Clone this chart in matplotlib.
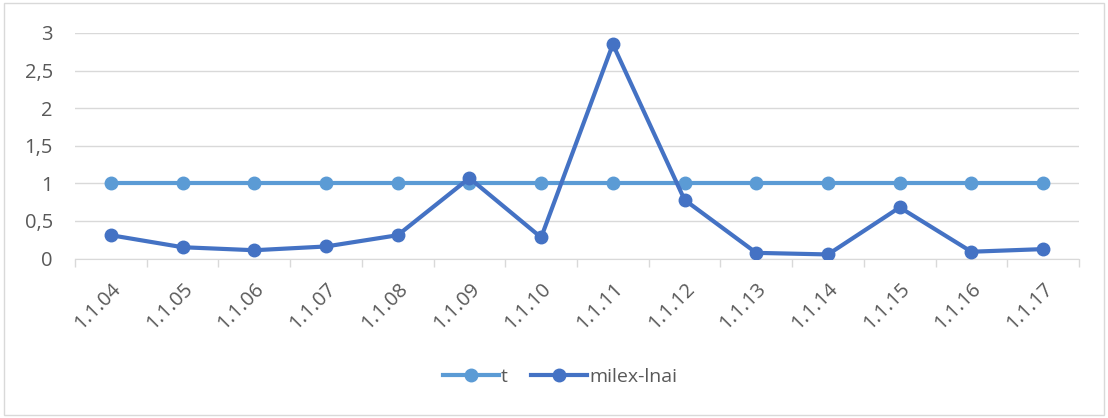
import matplotlib
matplotlib.use("Agg")
import matplotlib.pyplot as plt
from matplotlib.patches import Rectangle
from matplotlib.ticker import FuncFormatter

# data
labels = ['1.1.04', '1.1.05', '1.1.06', '1.1.07', '1.1.08', '1.1.09', '1.1.10',
          '1.1.11', '1.1.12', '1.1.13', '1.1.14', '1.1.15', '1.1.16', '1.1.17']
t_vals = [1, 1, 1, 1, 1, 1, 1, 1, 1, 1, 1, 1, 1, 1]
milex_vals = [0.31, 0.15, 0.11, 0.16, 0.31, 1.07, 0.28,
              2.85, 0.78, 0.075, 0.054, 0.68, 0.09, 0.125]

plt.rcParams['font.family'] = ['Open Sans', 'DejaVu Sans']
txt = '#595959'
grid = '#d9d9d9'

fig = plt.figure(figsize=(11.08, 4.18), dpi=100)
fig.patches.append(Rectangle((0.004, 0.006), 0.992, 0.988, transform=fig.transFigure,
                             fill=False, edgecolor=grid, lw=1))

ax = fig.add_axes([75 / 1108, (418 - 258.5) / 418, 1004 / 1108, 225.5 / 418])
x = range(len(labels))
ax.plot(x, t_vals, color='#5B9BD5', lw=3, marker='o', ms=9, label='t', zorder=3)
ax.plot(x, milex_vals, color='#4472C4', lw=3, marker='o', ms=9, label='milex-lnai', zorder=4)

ax.set_xlim(-0.5, len(labels) - 0.5)
ax.set_ylim(0, 3)
ax.set_yticks([0, 0.5, 1, 1.5, 2, 2.5, 3])
ax.yaxis.set_major_formatter(FuncFormatter(lambda v, p: ('%g' % v).replace('.', ',')))
ax.grid(axis='y', color=grid, lw=1)
ax.set_axisbelow(True)
for s in ['top', 'right', 'left']:
    ax.spines[s].set_visible(False)
ax.spines['bottom'].set_color(grid)
ax.tick_params(axis='y', length=0, labelsize=14.5, labelcolor=txt, pad=16)

# category labels, with small tick marks between categories
ax.set_xticks(list(x))
ax.set_xticklabels(labels, rotation=45, ha='right', rotation_mode='anchor')
ax.tick_params(axis='x', length=0, labelsize=14.5, labelcolor=txt, pad=15)
ax.set_xticks([i - 0.5 for i in range(len(labels) + 1)], minor=True)
ax.tick_params(axis='x', which='minor', length=6, color=grid, width=1)

leg = fig.legend(*ax.get_legend_handles_labels(), loc='center',
                 bbox_to_anchor=(560 / 1108, 41 / 418),
                 ncol=2, frameon=False, fontsize=14, handlelength=2.9, columnspacing=1.2,
                 handletextpad=0.1)
for t in leg.get_texts():
    t.set_color(txt)

fig.savefig('out.png', dpi=100)
